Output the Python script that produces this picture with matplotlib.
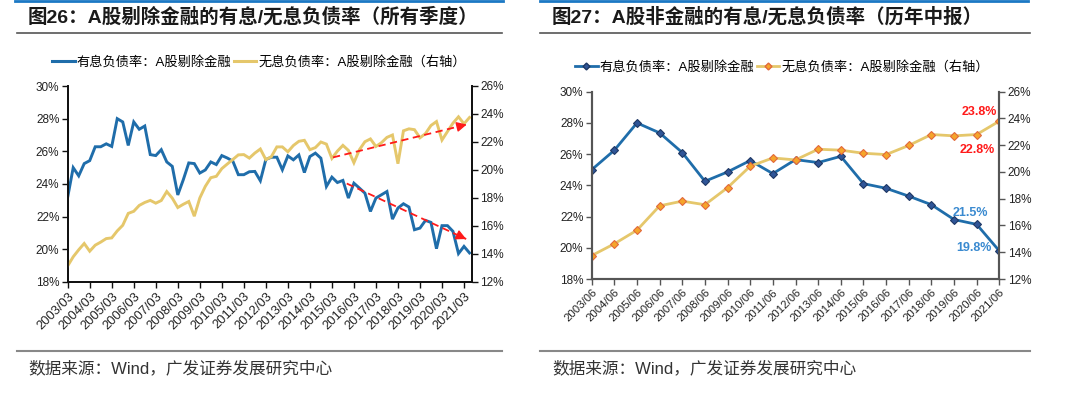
import matplotlib
matplotlib.use('Agg')
import matplotlib.pyplot as plt
from matplotlib.lines import Line2D
from matplotlib.ticker import FuncFormatter, FixedLocator

plt.rcParams['font.family'] = ['Liberation Sans', 'Noto Sans CJK SC', 'DejaVu Sans']

# ---------------- data ----------------
quarters = [f"{y}/{m:02d}" for y in range(2003, 2022) for m in (3, 6, 9, 12)][:74]

interest_q = [23.2, 25.0, 24.5, 25.25, 25.43, 26.28, 26.28, 26.46, 26.3, 28.0,
              27.8, 26.36, 27.8, 27.35, 27.55, 25.8, 25.74, 26.1, 25.35, 25.08,
              23.33, 24.26, 25.29, 25.25, 24.67, 24.86, 25.35, 25.19, 25.74, 25.59,
              25.4, 24.57, 24.57, 24.75, 24.77, 24.2, 25.5, 25.64, 25.64, 24.87,
              25.72, 25.48, 25.78, 24.7, 25.68, 25.89, 25.58, 23.85, 24.42, 24.09,
              24.22, 23.14, 24.05, 23.75, 23.44, 22.32, 23.14, 23.34, 23.54, 21.85,
              22.53, 22.79, 22.59, 21.2, 21.3, 21.77, 21.65, 20.04, 21.45, 21.45,
              21.1, 19.74, 20.18, 19.78]

noninterest_q = [13.15, 13.8, 14.3, 14.75, 14.2, 14.63, 14.85, 15.1, 15.15, 15.65,
                 16.05, 16.9, 17.05, 17.47, 17.68, 17.83, 17.63, 17.82, 18.46, 17.99,
                 17.32, 17.55, 17.75, 16.7, 18.0, 18.83, 19.45, 19.55, 20.1, 20.43,
                 20.75, 21.08, 21.1, 20.85, 21.21, 21.5, 20.74, 20.95, 21.65, 21.65,
                 21.3, 21.75, 22.05, 22.12, 21.45, 21.6, 22.0, 21.85, 20.83, 21.35,
                 21.76, 21.4, 20.52, 21.45, 22.02, 22.22, 21.68, 21.95, 22.33, 22.5,
                 20.45, 22.8, 22.94, 22.88, 22.3, 22.6, 23.18, 23.46, 22.14, 22.75,
                 23.35, 23.8, 23.3, 23.75]

years_h1 = [f"{y}/06" for y in range(2003, 2022)]
interest_h1 = [25.0, 26.25, 28.0, 27.36, 26.1, 24.26, 24.86, 25.59, 24.75, 25.65,
               25.46, 25.86, 24.11, 23.81, 23.31, 22.76, 21.81, 21.5, 19.8]
noninterest_h1 = [13.75, 14.63, 15.65, 17.47, 17.82, 17.55, 18.83, 20.43, 21.05, 20.9,
                  21.7, 21.63, 21.4, 21.3, 21.98, 22.8, 22.7, 22.8, 23.8]

label_interest = "有息负债率：A股剔除金融"
label_noninterest = "无息负债率：A股剔除金融（右轴）"
title_left = "图26：A股剔除金融的有息/无息负债率（所有季度）"
title_right = "图27：A股非金融的有息/无息负债率（历年中报）"
source_text = "数据来源：Wind，广发证券发展研究中心"

# trend arrows (start, end) in data coordinates
blue_trend = ((50.7, 24.03), (72.4, 20.63))
gold_trend = ((48.2, 20.9), (72.5, 23.25))

BLUE = '#1F6DAA'
GOLD = '#E5C76B'
RED = '#FF1A1A'

W, H = 1080, 398
fig = plt.figure(figsize=(W / 100, H / 100), dpi=100)

def fx(px):
    return px / W

def fy(py):
    return 1 - py / H

pct = FuncFormatter(lambda v, p: f"{v:.0f}%")

def hline(x0, x1, y, color, lw):
    fig.add_artist(Line2D([fx(x0), fx(x1)], [fy(y), fy(y)], transform=fig.transFigure,
                          color=color, lw=lw))

def style_axes(ax, ax2, spine_color, spine_lw):
    for a in (ax, ax2):
        a.spines['top'].set_visible(False)
        for s in ('left', 'right', 'bottom'):
            a.spines[s].set_color(spine_color)
            a.spines[s].set_linewidth(spine_lw)
        a.tick_params(direction='out', length=4, width=1, color=spine_color,
                      labelsize=8.5, labelcolor='#222222', pad=2)
        a.yaxis.set_major_formatter(pct)
    ax.set_facecolor('none')

# ---------------- left chart ----------------
axL = fig.add_axes([fx(67.7), fy(282), fx(471.7) - fx(67.7), fy(86) - fy(282)])
axL2 = axL.twinx()
xq = list(range(len(quarters)))
axL.plot(xq, interest_q, color=BLUE, lw=2.1, solid_joinstyle='miter')
axL2.plot(xq, noninterest_q, color=GOLD, lw=2.1, solid_joinstyle='miter')
axL.set_xlim(0, 73.4)
axL.set_ylim(18, 30)
axL2.set_ylim(12, 26)
axL.set_yticks(range(18, 31, 2))
axL2.set_yticks(range(12, 27, 2))
axL.xaxis.set_major_locator(FixedLocator(xq[::4]))
axL.set_xticklabels(quarters[::4])
style_axes(axL, axL2, '#111111', 1.3)
for lab in axL.get_xticklabels():
    lab.set_rotation(45)
    lab.set_ha('right')
    lab.set_rotation_mode('anchor')
    lab.set_fontsize(9.3)

def trend(ax, seg):
    (x0, y0), (x1, y1) = seg
    ax.plot([x0, x1], [y0, y1], color=RED, lw=1.3, ls=(0, (4, 2.5)))
    f = 0.06
    ax.annotate('', xy=(x1, y1), xytext=(x1 - f * (x1 - x0), y1 - f * (y1 - y0)),
                arrowprops=dict(arrowstyle='-|>,head_length=0.6,head_width=0.3',
                                color=RED, lw=1.0, shrinkA=0, shrinkB=0))

trend(axL, blue_trend)
trend(axL2, gold_trend)

# ---------------- right chart ----------------
axR = fig.add_axes([fx(591.7), fy(279), fx(999.3) - fx(591.7), fy(91.7) - fy(279)])
axR2 = axR.twinx()
xy = list(range(len(years_h1)))
axR.plot(xy, interest_h1, color=BLUE, lw=2.0, marker='D', ms=4.5,
         mfc='#2F5597', mec='#1F3864', mew=0.8)
axR2.plot(xy, noninterest_h1, color=GOLD, lw=2.0, marker='D', ms=4.5,
          mfc='#F5A52A', mec='#E2683C', mew=0.8)
axR.set_xlim(0, len(years_h1) - 1)
axR.set_ylim(18, 30)
axR2.set_ylim(12, 26)
axR.set_yticks(range(18, 31, 2))
axR2.set_yticks(range(12, 27, 2))
axR.xaxis.set_major_locator(FixedLocator(xy))
axR.set_xticklabels(years_h1)
style_axes(axR, axR2, '#555555', 1.5)
for lab in axR.get_xticklabels():
    lab.set_rotation(45)
    lab.set_ha('right')
    lab.set_rotation_mode('anchor')
    lab.set_fontsize(8.2)

lab_kw = dict(fontsize=9, fontweight='bold', ha='right', va='center')
axR2.text(17.89, 24.48, f"{noninterest_h1[-1]:.1f}%", color=RED, **lab_kw)
axR2.text(17.81, 21.64, f"{noninterest_h1[-2]:.1f}%", color=RED, **lab_kw)
axR.text(17.5, 22.23, f"{interest_h1[-2]:.1f}%", color='#3A8AD0', **lab_kw)
axR.text(17.67, 19.98, f"{interest_h1[-1]:.1f}%", color='#3A8AD0', **lab_kw)

# ---------------- legends ----------------
hL = [Line2D([], [], color=BLUE, lw=2.2), Line2D([], [], color=GOLD, lw=2.2)]
fig.legend(hL, [label_interest, label_noninterest], loc='center',
           bbox_to_anchor=(fx(259), fy(62)), ncol=2, frameon=False, fontsize=9.5,
           handlelength=1.7, handletextpad=0.15, columnspacing=0.2, borderpad=0)
hR = [Line2D([], [], color=BLUE, lw=2.0, marker='D', ms=3.5, mfc='#2F5597', mec='#1F3864'),
      Line2D([], [], color=GOLD, lw=2.0, marker='D', ms=3.5, mfc='#F5A52A', mec='#E2683C')]
fig.legend(hR, [label_interest, label_noninterest], loc='center',
           bbox_to_anchor=(fx(782), fy(67)), ncol=2, frameon=False, fontsize=9.5,
           handlelength=1.7, handletextpad=0.15, columnspacing=0.2, borderpad=0)

# ---------------- titles / decorations ----------------
fig.text(fx(28), fy(17), title_left, fontsize=14, fontweight='bold', ha='left',
         va='center', color='#1a1a1a')
fig.text(fx(552), fy(17), title_right, fontsize=14, fontweight='bold', ha='left',
         va='center', color='#1a1a1a')
hline(15, 503, 1, '#1B78C4', 2)
hline(540, 1028, 1, '#1B78C4', 2)
hline(17, 502, 32.5, '#555555', 1.2)
hline(540, 1030, 32.5, '#555555', 1.2)
hline(17, 502, 351, '#888888', 1.5)
hline(540, 1030, 351, '#888888', 1.5)
fig.text(fx(28), fy(368), source_text, fontsize=12, ha='left', va='center', color='#333333')
fig.text(fx(552), fy(368), source_text, fontsize=12, ha='left', va='center', color='#333333')

fig.savefig('out.png', dpi=100)
